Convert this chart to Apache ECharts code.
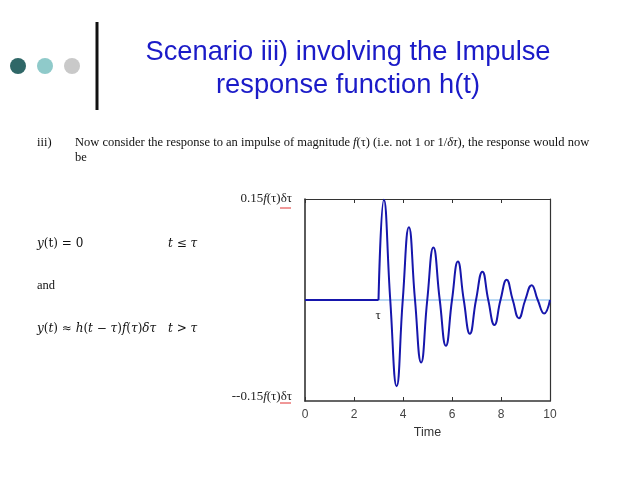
<!DOCTYPE html>
<html><head><meta charset="utf-8">
<script src="https://cdn.jsdelivr.net/npm/echarts@6/dist/echarts.min.js"></script>
<style>html,body{margin:0;padding:0;background:#fff;}#c{width:638px;height:478px;}</style>
</head><body><div id="c"></div>
<script>
// Data
var xTicks = [0, 2, 4, 6, 8, 10];
var tFlat = [0, 3];
var yFlat = [0, 0];
var tBase = [0, 10];
var yBase = [0, 0];
var tResp = [3.00, 3.22, 3.48, 3.74, 3.99, 4.24, 4.49, 4.74, 4.99, 5.24, 5.50, 5.75, 6.00, 6.24, 6.48, 6.73, 6.98, 7.24, 7.48, 7.73, 7.98, 8.23, 8.48, 8.73, 8.99, 9.25, 9.50, 9.76, 10.0];
var yResp = [0, 0.149, 0, -0.128, 0, 0.108, 0, -0.093, 0, 0.078, 0, -0.068, 0, 0.057, 0, -0.050, 0, 0.042, 0, -0.037, 0, 0.030, 0, -0.027, 0, 0.022, 0, -0.020, 0];
var yTopLabel = '0.15';
var yBotLabel = '--0.15';

function pairs(xs, ys) { return xs.map(function (x, i) { return [x, ys[i]]; }); }

var serif = '"Liberation Serif", "DejaVu Serif", serif';
var math = '"DejaVu Serif", "Liberation Serif", serif';
var sans = '"Liberation Sans", Arial, sans-serif';
var frame = '#333';
var lineBlue = '#1616ac';
var mathRich = { i: { fontFamily: math, fontSize: 12, fontStyle: 'italic', fill: '#111' } };

var chart = echarts.init(document.getElementById('c'), null, { renderer: 'canvas' });
chart.setOption({
  animation: false,
  backgroundColor: '#fff',
  grid: { left: 305, right: 88, top: 199, bottom: 77, containLabel: false },
  xAxis: [{
    type: 'value', min: 0, max: 10, interval: 2, position: 'bottom',
    name: 'Time', nameLocation: 'middle', nameGap: 25,
    nameTextStyle: { fontFamily: sans, fontSize: 12.5, color: '#333' },
    axisLine: { show: true, onZero: false, lineStyle: { color: frame, width: 1.6 } },
    axisTick: { show: true, inside: true, length: 4, lineStyle: { color: frame } },
    axisLabel: { show: true, margin: 8, fontFamily: sans, fontSize: 12, color: '#444',
      formatter: function (v) { return xTicks.indexOf(v) >= 0 ? String(v) : ''; } },
    splitLine: { show: false }
  }, {
    type: 'value', min: 0, max: 10, interval: 2, position: 'top',
    axisLine: { show: true, onZero: false, lineStyle: { color: frame, width: 1.2 } },
    axisTick: { show: true, inside: true, length: 4, lineStyle: { color: frame } },
    axisLabel: { show: false }, splitLine: { show: false }
  }],
  yAxis: [{
    type: 'value', min: -0.15, max: 0.15, interval: 0.3, position: 'left',
    axisLine: { show: true, onZero: false, lineStyle: { color: frame, width: 1.6 } },
    axisTick: { show: false },
    axisLabel: {
      show: true, margin: 13, showMinLabel: true, showMaxLabel: true,
      formatter: function (v) {
        if (v > 0.1) return '{n|' + yTopLabel + '}{i|f}{n|(τ)δτ}';
        if (v < -0.1) return '{b|' + yBotLabel + '}{bi|f}{b|(τ)δτ}';
        return '';
      },
      rich: {
        n: { fontFamily: serif, fontSize: 13, color: '#222' },
        i: { fontFamily: serif, fontSize: 13, fontStyle: 'italic', color: '#222' },
        b: { fontFamily: serif, fontSize: 13, color: '#222', padding: [0, 0, 8, 0] },
        bi: { fontFamily: serif, fontSize: 13, fontStyle: 'italic', color: '#222', padding: [0, 0, 8, 0] }
      }
    },
    splitLine: { show: false }
  }, {
    type: 'value', min: -0.15, max: 0.15, interval: 0.3, position: 'right',
    axisLine: { show: true, onZero: false, lineStyle: { color: frame, width: 1.2 } },
    axisTick: { show: false }, axisLabel: { show: false }, splitLine: { show: false }
  }],
  series: [{
    type: 'line', data: pairs(tBase, yBase), showSymbol: false, symbol: 'none',
    lineStyle: { color: '#74b4e8', width: 1 }, z: 1
  }, {
    type: 'line', data: pairs(tFlat, yFlat), showSymbol: false, symbol: 'none',
    lineStyle: { color: lineBlue, width: 2 }, z: 2
  }, {
    type: 'line', data: pairs(tResp, yResp), showSymbol: false, symbol: 'none',
    smooth: 0.5, lineStyle: { color: lineBlue, width: 2 }, z: 2
  }],
  graphic: [
    { type: 'circle', shape: { cx: 18, cy: 66, r: 8 }, style: { fill: '#2f6767' } },
    { type: 'circle', shape: { cx: 45, cy: 66, r: 8 }, style: { fill: '#8fcaca' } },
    { type: 'circle', shape: { cx: 72, cy: 66, r: 8 }, style: { fill: '#c9c9c9' } },
    { type: 'line', shape: { x1: 97, y1: 22, x2: 97, y2: 110 }, style: { stroke: '#111', lineWidth: 3 } },
    { type: 'text', x: 348, y: 52, style: { text: 'Scenario iii) involving the Impulse', font: '27.3px ' + sans, fill: '#1b1bc8', textAlign: 'center', textVerticalAlign: 'middle' } },
    { type: 'text', x: 348, y: 85, style: { text: 'response function h(t)', font: '27.3px ' + sans, fill: '#1b1bc8', textAlign: 'center', textVerticalAlign: 'middle' } },
    { type: 'text', x: 37, y: 143, style: { text: 'iii)', font: '12.5px ' + serif, fill: '#111', textVerticalAlign: 'middle' } },
    { type: 'text', x: 75, y: 143, style: {
      text: 'Now consider the response to an impulse of magnitude {i|f}(τ) (i.e. not 1 or 1/{i|δτ}), the response would now',
      font: '12.5px ' + serif, fill: '#111', textVerticalAlign: 'middle',
      rich: { i: { fontFamily: serif, fontSize: 12.5, fontStyle: 'italic', fill: '#111' } } } },
    { type: 'text', x: 75, y: 158, style: { text: 'be', font: '12.5px ' + serif, fill: '#111', textVerticalAlign: 'middle' } },
    { type: 'text', x: 37, y: 244, style: {
      text: '{i|y}(t) = 0', font: '12px ' + math, fill: '#111', textVerticalAlign: 'middle', rich: mathRich } },
    { type: 'text', x: 168, y: 244, style: {
      text: '{i|t} ≤ {i|τ}', font: '12px ' + math, fill: '#111', textVerticalAlign: 'middle', rich: mathRich } },
    { type: 'text', x: 37, y: 286, style: { text: 'and', font: '12.5px ' + serif, fill: '#111', textVerticalAlign: 'middle' } },
    { type: 'text', x: 37, y: 329, style: {
      text: '{i|y}({i|t}) ≈ {i|h}({i|t} − {i|τ}){i|f}({i|τ}){i|δτ}', font: '12px ' + math, fill: '#111', textVerticalAlign: 'middle', rich: mathRich } },
    { type: 'text', x: 168, y: 329, style: {
      text: '{i|t} > {i|τ}', font: '12px ' + math, fill: '#111', textVerticalAlign: 'middle', rich: mathRich } },
    { type: 'text', x: 378, y: 316, style: { text: 'τ', font: '13px ' + serif, fill: '#222', textAlign: 'center', textVerticalAlign: 'middle' } },
    { type: 'line', shape: { x1: 280, y1: 208, x2: 291, y2: 208 }, style: { stroke: '#e03030', lineWidth: 1 } },
    { type: 'line', shape: { x1: 280, y1: 403, x2: 291, y2: 403 }, style: { stroke: '#e03030', lineWidth: 1 } }
  ]
});
</script>
</body></html>
